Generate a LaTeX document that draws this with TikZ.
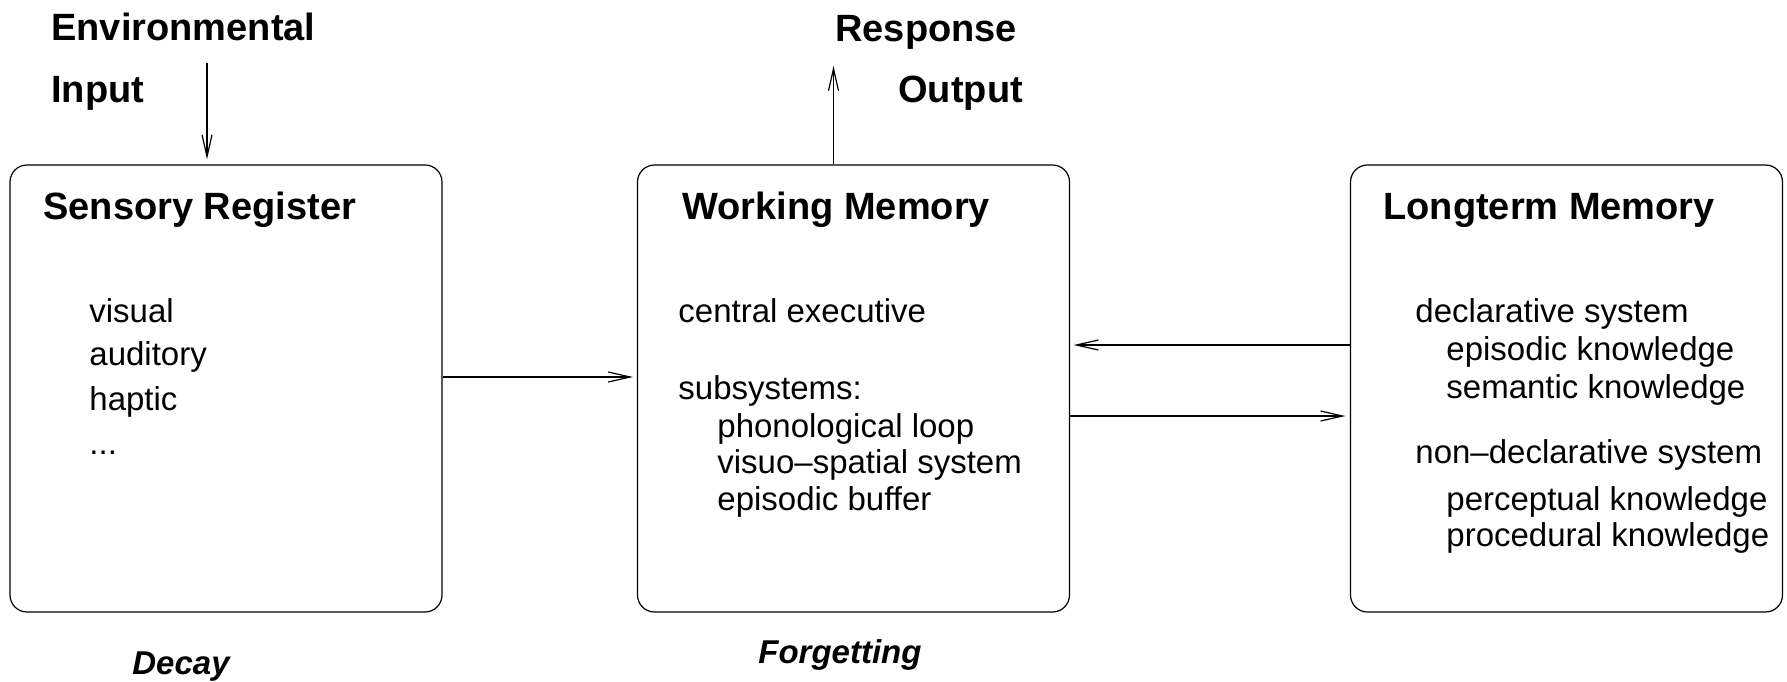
\documentclass[tikz,border=0pt]{standalone}
\usepackage{fontspec}
\setmainfont{Liberation Sans}
\usetikzlibrary{arrows.meta}

\begin{document}
\begin{tikzpicture}[x=0.5pt,y=-0.5pt,>={Straight Barb[length=11pt,width=5pt]},
        box/.style={draw,line width=0.6pt,rounded corners=8.5pt,minimum width=216pt,minimum height=223.5pt,inner sep=0pt},
        head/.style={font=\fontsize{19}{23}\selectfont\bfseries,anchor=base west,inner sep=0pt},
        item/.style={font=\fontsize{16.5}{20}\selectfont,anchor=base west,inner sep=0pt},
        fate/.style={font=\fontsize{16.5}{20}\selectfont\bfseries\itshape,anchor=base west,inner sep=0pt},
        link/.style={->,line width=0.6pt}]
    \useasboundingbox (0,0) rectangle (1787,681);
    % the three stores
    \node[box] (sr) at (226,388.5) {};
    \node[box] (wm) at (853.5,388.5) {};
    \node[box] (ltm) at (1566.5,388.5) {};
    \node[head] (srtitle) at (43,219) {Sensory Register};
    \node[head] (wmtitle) at (682,219) {Working Memory};
    \node[head] (ltmtitle) at (1383,219) {Longterm Memory};
    \node[item] (visual) at (89,322) {visual};
    \node[item] (auditory) at (89,365) {auditory};
    \node[item] (haptic) at (89,410) {haptic};
    \node[item] (etc) at (89,454) {...};
    \node[item] (central) at (678,322) {central executive};
    \node[item] (subsys) at (678,399) {subsystems:};
    \node[item] (phono) at (717,437) {phonological loop};
    \node[item] (visuo) at (717,473) {visuo--spatial system};
    \node[item] (buffer) at (717,510) {episodic buffer};
    \node[item] (decl) at (1415,322) {declarative system};
    \node[item] (episodic) at (1446,360) {episodic knowledge};
    \node[item] (semantic) at (1446,398) {semantic knowledge};
    \node[item] (nondecl) at (1415,463) {non--declarative system};
    \node[item] (percept) at (1446,510) {perceptual knowledge};
    \node[item] (proced) at (1446,546) {procedural knowledge};
    % labels outside
    \node[head] (env) at (51,40) {Environmental};
    \node[head] (input) at (51,102) {Input};
    \node[head] (resp) at (835,41) {Response};
    \node[head] (output) at (898,102) {Output};
    \node[fate] (decay) at (132,674) {Decay};
    \node[fate] (forget) at (758,663) {Forgetting};
    % arrows
    \coordinate (envin) at (207,63);
    \coordinate (resout) at (833.5,66);
    \coordinate (fwd) at (0,377);
    \coordinate (recall) at (0,345);
    \coordinate (store) at (0,416);
    \draw[link,shorten >=2.5pt] (envin) -- (sr.north -| envin);
    \draw[link] (wm.north -| resout) -- (resout);
    \draw[link,shorten >=2pt] (sr.east |- fwd) -- (wm.west |- fwd);
    \draw[link,shorten >=1.8pt] (ltm.west |- recall) -- (wm.east |- recall);
    \draw[link,shorten >=2.3pt] (wm.east |- store) -- (ltm.west |- store);
\end{tikzpicture}
\end{document}
